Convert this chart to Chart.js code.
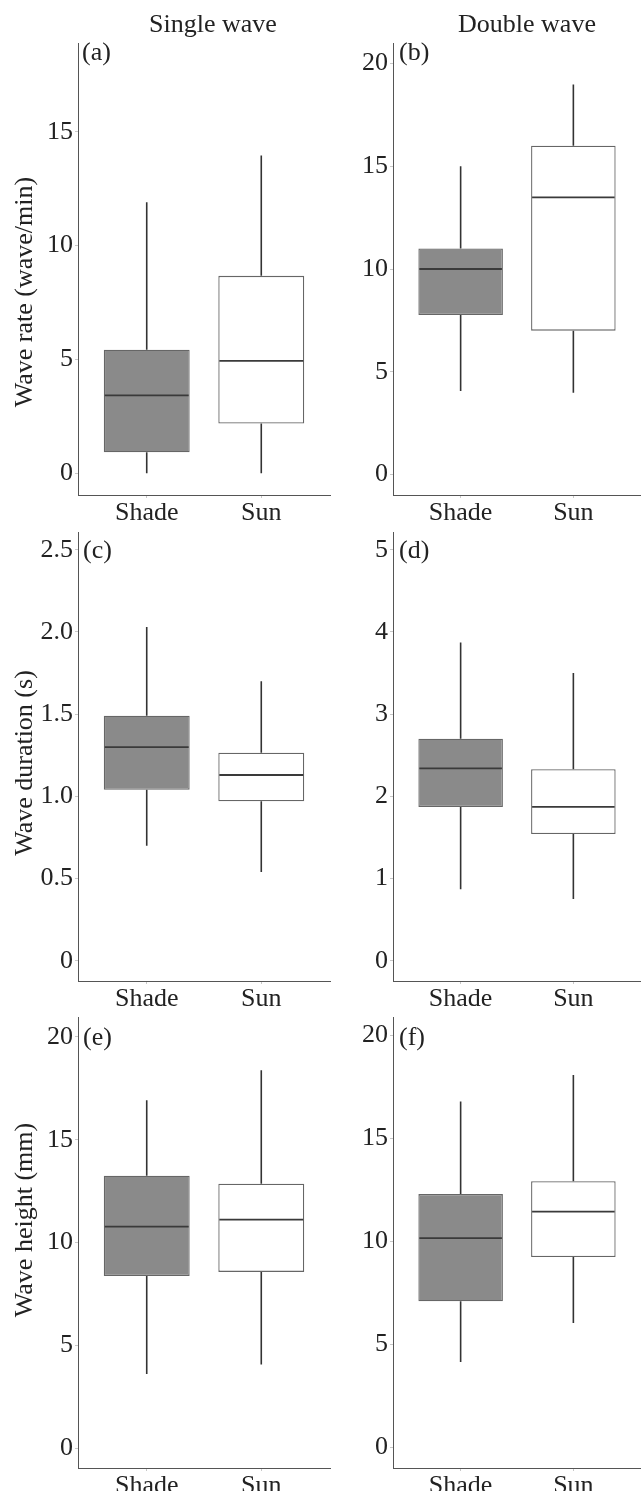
<!DOCTYPE html>
<html>
<head>
<meta charset="utf-8">
<script src="https://cdn.jsdelivr.net/npm/chart.js@4/dist/chart.umd.min.js"></script>
<style>
  html, body { margin: 0; padding: 0; background: #fff; }
  body { width: 641px; height: 1491px; position: relative; overflow: hidden; font-family: "Liberation Serif", serif; color: #222; }
  canvas { position: absolute; }
  .txt { position: absolute; font-size: 26px; line-height: normal; white-space: nowrap; color: #222; }
  .col { transform: translateX(-50%); }
  .ytitle { transform: translate(-50%, -50%) rotate(-90deg); }
</style>
</head>
<body>
<script>
// ---------- data ----------
const CATEGORIES = ['Shade', 'Sun'];
const COLUMN_TITLES = ['Single wave', 'Double wave'];
const ROW_TITLES = ['Wave rate (wave/min)', 'Wave duration (s)', 'Wave height (mm)'];
const PANEL_LABELS = ['(a)', '(b)', '(c)', '(d)', '(e)', '(f)'];

// box statistics: [lower whisker, Q1, median, Q3, upper whisker]
const rateSingleShade   = [0.0, 0.92, 3.42, 5.42, 11.9];
const rateSingleSun     = [0.0, 2.18, 4.93, 8.67, 13.96];
const rateDoubleShade   = [4.06, 7.76, 10.0, 11.0, 15.0];
const rateDoubleSun     = [3.98, 7.0, 13.49, 16.0, 18.98];
const durSingleShade    = [0.70, 1.04, 1.30, 1.49, 2.03];
const durSingleSun      = [0.54, 0.97, 1.13, 1.265, 1.70];
const durDoubleShade    = [0.87, 1.87, 2.34, 2.70, 3.87];
const durDoubleSun      = [0.75, 1.54, 1.87, 2.33, 3.50];
const heightSingleShade = [3.6, 8.37, 10.77, 13.25, 16.92];
const heightSingleSun   = [4.06, 8.57, 11.11, 12.86, 18.38];
const heightDoubleShade = [4.15, 7.10, 10.16, 12.30, 16.80];
const heightDoubleSun   = [6.04, 9.24, 11.45, 12.93, 18.08];

// y-axis ticks and ranges
const rateSingleTicks = [0, 5, 10, 15];
const rateSingleTickLabels = ['0', '5', '10', '15'];
const rateDoubleTicks = [0, 5, 10, 15, 20];
const rateDoubleTickLabels = ['0', '5', '10', '15', '20'];
const durSingleTicks = [0, 0.5, 1, 1.5, 2, 2.5];
const durSingleTickLabels = ['0', '0.5', '1.0', '1.5', '2.0', '2.5'];
const durDoubleTicks = [0, 1, 2, 3, 4, 5];
const durDoubleTickLabels = ['0', '1', '2', '3', '4', '5'];
const heightTicks = [0, 5, 10, 15, 20];
const heightTickLabels = ['0', '5', '10', '15', '20'];

const rateSingleRange = [-0.96, 18.9];
const rateDoubleRange = [-1.0, 21.0];
const durSingleRange = [-0.123, 2.608];
const durDoubleRange = [-0.247, 5.215];
const heightSingleRange = [-0.97, 20.97];
const heightDoubleRange = [-1.0, 20.9];

// ---------- styling / layout ----------
const FONT = 'Liberation Serif';
const TEXT = '#222';
const SHADE_FILL = '#8a8a8a';
const SUN_FILL = '#ffffff';
const BOX_BORDER = '#666666';
const LINE_DARK = '#333333';
const AXIS = '#555555';

const COLS = [
  { canvasLeft: 0,   canvasWidth: 335, axisLeft: 78,  plotRight: 330 },
  { canvasLeft: 335, canvasWidth: 306, axisLeft: 393, plotRight: 641 }
];
const ROWS = [
  { top: 43,   bottom: 495 },
  { top: 532,  bottom: 981 },
  { top: 1017, bottom: 1468 }
];
const PAD_TOP = 20, XAXIS_H = 30;

const PANELS = [
  { stats: [rateSingleShade, rateSingleSun], ticks: rateSingleTicks, labels: rateSingleTickLabels, range: rateSingleRange },
  { stats: [rateDoubleShade, rateDoubleSun], ticks: rateDoubleTicks, labels: rateDoubleTickLabels, range: rateDoubleRange },
  { stats: [durSingleShade, durSingleSun], ticks: durSingleTicks, labels: durSingleTickLabels, range: durSingleRange },
  { stats: [durDoubleShade, durDoubleSun], ticks: durDoubleTicks, labels: durDoubleTickLabels, range: durDoubleRange },
  { stats: [heightSingleShade, heightSingleSun], ticks: heightTicks, labels: heightTickLabels, range: heightSingleRange },
  { stats: [heightDoubleShade, heightDoubleSun], ticks: heightTicks, labels: heightTickLabels, range: heightDoubleRange }
];

Chart.defaults.font.family = FONT;
Chart.defaults.color = TEXT;

// whiskers (under the box) and median (over the box), drawn through the chart's y scale
const boxPlugin = {
  id: 'boxWhisker',
  beforeDatasetsDraw(chart) {
    const meta = chart.getDatasetMeta(0);
    const y = chart.scales.y;
    const stats = chart.data.datasets[0].stats;
    const ctx = chart.ctx;
    ctx.save();
    ctx.strokeStyle = LINE_DARK;
    ctx.lineWidth = 1.6;
    meta.data.forEach((bar, i) => {
      const s = stats[i];
      ctx.beginPath();
      ctx.moveTo(bar.x, y.getPixelForValue(s[0]));
      ctx.lineTo(bar.x, y.getPixelForValue(s[1]));
      ctx.moveTo(bar.x, y.getPixelForValue(s[3]));
      ctx.lineTo(bar.x, y.getPixelForValue(s[4]));
      ctx.stroke();
    });
    ctx.restore();
  },
  afterDatasetsDraw(chart) {
    const meta = chart.getDatasetMeta(0);
    const y = chart.scales.y;
    const stats = chart.data.datasets[0].stats;
    const ctx = chart.ctx;
    ctx.save();
    ctx.strokeStyle = '#3a3a3a';
    ctx.lineWidth = 1.8;
    meta.data.forEach((bar, i) => {
      const py = y.getPixelForValue(stats[i][2]);
      ctx.beginPath();
      ctx.moveTo(bar.x - bar.width / 2 + 1, py);
      ctx.lineTo(bar.x + bar.width / 2 - 1, py);
      ctx.stroke();
    });
    ctx.restore();
  }
};

PANELS.forEach((p, idx) => {
  const col = COLS[idx % 2];
  const row = ROWS[Math.floor(idx / 2)];
  const cv = document.createElement('canvas');
  const h = (row.bottom - row.top) + PAD_TOP + XAXIS_H;
  cv.width = col.canvasWidth;
  cv.height = h;
  cv.style.left = col.canvasLeft + 'px';
  cv.style.top = (row.top - PAD_TOP) + 'px';
  cv.style.width = col.canvasWidth + 'px';
  cv.style.height = h + 'px';
  document.body.appendChild(cv);

  const yAxisWidth = col.axisLeft - col.canvasLeft;
  const padRight = col.canvasLeft + col.canvasWidth - col.plotRight;

  new Chart(cv, {
    type: 'bar',
    data: {
      datasets: [{
        data: p.stats.map((s, i) => ({ x: i + 1, y: [s[1], s[3]] })),
        stats: p.stats,
        backgroundColor: [SHADE_FILL, SUN_FILL],
        borderColor: BOX_BORDER,
        borderWidth: 1.3,
        borderSkipped: false,
        categoryPercentage: 1,
        barPercentage: 0.75
      }]
    },
    options: {
      responsive: false,
      animation: false,
      devicePixelRatio: 1,
      layout: { padding: { top: PAD_TOP, right: padRight, left: 0, bottom: 0 } },
      plugins: { legend: { display: false }, tooltip: { enabled: false } },
      scales: {
        x: {
          type: 'linear',
          offset: false,
          min: 0.4,
          max: 2.6,
          afterBuildTicks: (scale) => { scale.ticks = CATEGORIES.map((c, i) => ({ value: i + 1 })); },
          afterFit: (scale) => { scale.height = XAXIS_H; },
          ticks: {
            callback: (v, i) => CATEGORIES[i],
            font: { size: 26 },
            color: TEXT,
            padding: 0,
            maxRotation: 0,
            autoSkip: false
          },
          grid: { offset: false, drawOnChartArea: false, drawTicks: true, tickLength: 3, tickColor: '#c8c8c8' },
          border: { display: true, color: AXIS, width: 1 }
        },
        y: {
          type: 'linear',
          min: p.range[0],
          max: p.range[1],
          afterBuildTicks: (scale) => { scale.ticks = p.ticks.map(v => ({ value: v })); },
          afterFit: (scale) => { scale.width = yAxisWidth; },
          ticks: {
            callback: (v, i) => p.labels[i],
            font: { size: 26 },
            color: TEXT,
            padding: 2,
            autoSkip: false
          },
          grid: { drawOnChartArea: false, drawTicks: true, tickLength: 3, tickColor: '#c8c8c8' },
          border: { display: true, color: AXIS, width: 1 }
        }
      }
    },
    plugins: [boxPlugin]
  });
});

// ---------- text ----------
function addText(str, cls, left, top) {
  const d = document.createElement('div');
  d.className = 'txt ' + cls;
  d.textContent = str;
  d.style.left = left + 'px';
  d.style.top = top + 'px';
  document.body.appendChild(d);
}
addText(COLUMN_TITLES[0], 'col', 213, 9);
addText(COLUMN_TITLES[1], 'col', 527, 9);
addText(ROW_TITLES[0], 'ytitle', 24, 292);
addText(ROW_TITLES[1], 'ytitle', 24, 763);
addText(ROW_TITLES[2], 'ytitle', 24, 1220);
const LABEL_POS = [[82, 37], [399, 37], [83, 535], [399, 535], [83, 1022], [399, 1022]];
PANEL_LABELS.forEach((t, i) => addText(t, '', LABEL_POS[i][0], LABEL_POS[i][1]));
</script>
</body>
</html>
